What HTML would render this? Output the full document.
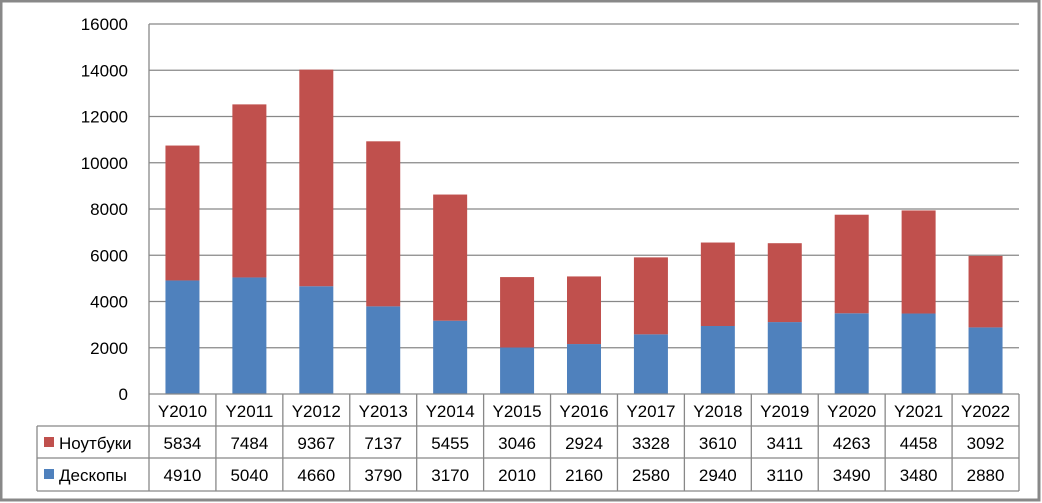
<!DOCTYPE html>
<html><head><meta charset="utf-8"><style>
html,body{margin:0;padding:0;background:#fff}
svg{display:block;font-family:"Liberation Sans",sans-serif}
</style></head><body>
<svg id="chart" width="1042" height="503">
<rect x="1" y="1" width="1038" height="499" fill="#fff" stroke="#888" stroke-width="3"/>
<g id="grid"></g><g id="bars"></g><g id="yax"></g><g id="tbl"></g>
</svg>
<script>
const categories=["Y2010","Y2011","Y2012","Y2013","Y2014","Y2015","Y2016","Y2017","Y2018","Y2019","Y2020","Y2021","Y2022"];
const desktops=[4910,5040,4660,3790,3170,2010,2160,2580,2940,3110,3490,3480,2880];
const laptops=[5834,7484,9367,7137,5455,3046,2924,3328,3610,3411,4263,4458,3092];
const yTicks=[0,2000,4000,6000,8000,10000,12000,14000,16000];
const seriesNames=["Ноутбуки","Дескопы"];
const NS="http://www.w3.org/2000/svg";
const X0=149,X1=1019,Y0=394,Y1=24,YMAX=16000;
const cw=(X1-X0)/categories.length;
const y=v=>Y0-(v/YMAX)*(Y0-Y1);
const xc=i=>X0+cw*(i+0.5);
function mk(tag,attrs,parent,text){const e=document.createElementNS(NS,tag);for(const k in attrs)e.setAttribute(k,attrs[k]);if(text!==undefined)e.textContent=text;document.getElementById(parent).appendChild(e);return e;}
yTicks.forEach(t=>{
  if(t>0){const l=mk('line',{x1:X0,x2:X1,y1:y(t),y2:y(t),stroke:'#888','stroke-width':1.3},'grid');
  
  }
  const tx=mk('text',{x:128,y:y(t)+6,'text-anchor':'end','font-size':17,fill:'#000'},'yax',t);
  
  
});
const ax=mk('line',{x1:X0,x2:X0,y1:Y1,y2:Y0,stroke:'#888','stroke-width':1.3},'yax');


const bw=34;
categories.forEach((c,i)=>{
  const b=mk('rect',{x:xc(i)-bw/2,y:y(desktops[i]),width:bw,height:Y0-y(desktops[i]),fill:'#4f81bd'},'bars');
  
  
  const r=mk('rect',{x:xc(i)-bw/2,y:y(desktops[i]+laptops[i]),width:bw,height:y(desktops[i])-y(desktops[i]+laptops[i]),fill:'#c0504d'},'bars');
  
  
});
// table
const R=[394,426,458,491],LX=37;
const st={stroke:'#888','stroke-width':1.3};
function ln(x1,y1,x2,y2,n){const l=mk('line',Object.assign({x1,y1,x2,y2},st),'tbl');}
ln(X0,R[0],X1,R[0],'table-top');
ln(LX,R[1],X1,R[1],'table-row-line');
ln(LX,R[2],X1,R[2],'table-row-line');
ln(LX,R[3],X1,R[3],'table-bottom');
ln(LX,R[1],LX,R[3],'table-left');
for(let i=0;i<=categories.length;i++)ln(X0+cw*i,R[0],X0+cw*i,R[3],'table-col-line');
categories.forEach((c,i)=>{
  const t=mk('text',{x:xc(i),y:R[0]+23,'text-anchor':'middle','font-size':17},'tbl',c);
  
  
  const a=mk('text',{x:xc(i),y:R[1]+23,'text-anchor':'middle','font-size':17},'tbl',laptops[i]);
  
  
  const d=mk('text',{x:xc(i),y:R[2]+23,'text-anchor':'middle','font-size':17},'tbl',desktops[i]);
  
  
});
const cols=['#c0504d','#4f81bd'];
seriesNames.forEach((n,k)=>{
  const s=mk('rect',{x:44,y:R[1+k]+11,width:10,height:10,fill:cols[k]},'tbl');
  
  
  const t=mk('text',{x:59,y:R[1+k]+23,'font-size':17},'tbl',n);
  
  
});
</script>
</body></html>
